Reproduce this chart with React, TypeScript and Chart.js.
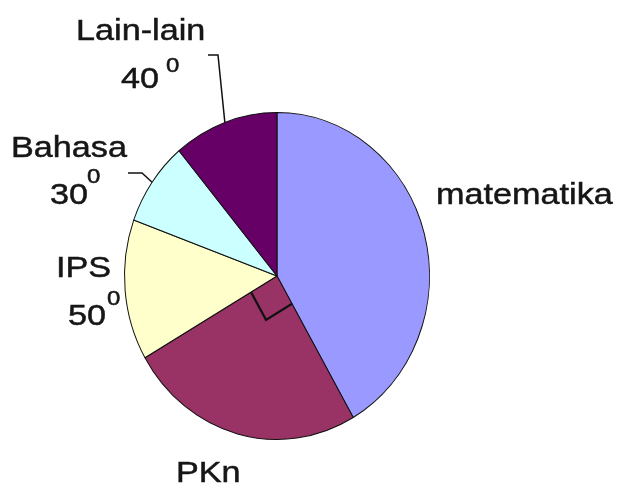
import { useEffect, useRef } from 'react';
import { Chart, ArcElement, PieController } from 'chart.js';

Chart.register(ArcElement, PieController);

// ---- data ----
const categories = ['matematika', 'PKn', 'IPS', 'Bahasa', 'Lain-lain'];
const degrees = [150, 90, 50, 30, 40];
const colors = ['#9999FF', '#993366', '#FFFFCC', '#CCFFFF', '#660066'];
const degreeTexts = ['', '', '50', '30', '40'];
const supText = '0';

// ---- layout (left x, baseline y) ----
const SY = 164 / 153; // vertical stretch of the pie (ellipse)
const SX_TEXT = 1.14; // horizontal stretch of text
const FONT = '"Liberation Sans", Arial, sans-serif';
const namePos: Record<string, [number, number]> = {
  matematika: [436, 204],
  PKn: [176, 482],
  IPS: [56, 277],
  Bahasa: [11, 157],
  'Lain-lain': [76, 40],
};
const degPos: Record<string, [number, number]> = {
  IPS: [68, 325],
  Bahasa: [50, 204],
  'Lain-lain': [121, 88],
};
const supPos: Record<string, [number, number]> = {
  IPS: [107, 305],
  Bahasa: [87, 183],
  'Lain-lain': [166, 72],
};
const leaderStart: Record<string, [number, number][]> = {
  Bahasa: [[128, 173], [142, 173]],
  'Lain-lain': [[208, 55], [218, 55]],
};

function drawText(ctx: CanvasRenderingContext2D, t: string, x: number, y: number, size: number) {
  ctx.save();
  ctx.translate(x, y);
  ctx.scale(SX_TEXT, 1);
  ctx.font = `${size}px ${FONT}`;
  ctx.fillStyle = '#161616';
  ctx.strokeStyle = '#161616';
  ctx.lineWidth = 0.5;
  ctx.textAlign = 'left';
  ctx.textBaseline = 'alphabetic';
  ctx.fillText(t, 0, 0);
  ctx.strokeText(t, 0, 0);
  ctx.restore();
}

const ellipsePlugin = {
  id: 'ellipsePie',
  beforeDatasetsDraw(chart: any) {
    const arc = chart.getDatasetMeta(0).data[0];
    if (!arc) return;
    const ctx = chart.ctx;
    ctx.save();
    ctx.translate(arc.x, arc.y);
    ctx.scale(1, SY);
    ctx.translate(-arc.x, -arc.y);
  },
  afterDatasetsDraw(chart: any) {
    const meta = chart.getDatasetMeta(0);
    const ctx = chart.ctx;
    // right-angle marker on the PKn slice (still in scaled space)
    const idx = categories.indexOf('PKn');
    const a = meta.data[idx];
    if (a) {
      const s = 30;
      const u1 = [Math.cos(a.startAngle), Math.sin(a.startAngle)];
      const u2 = [Math.cos(a.endAngle), Math.sin(a.endAngle)];
      ctx.beginPath();
      ctx.moveTo(a.x + s * u1[0], a.y + s * u1[1]);
      ctx.lineTo(a.x + s * (u1[0] + u2[0]), a.y + s * (u1[1] + u2[1]));
      ctx.lineTo(a.x + s * u2[0], a.y + s * u2[1]);
      ctx.lineWidth = 2.2;
      ctx.strokeStyle = '#111';
      ctx.stroke();
    }
    ctx.restore();
  },
  afterDraw(chart: any) {
    const meta = chart.getDatasetMeta(0);
    const ctx = chart.ctx;
    categories.forEach((name, i) => {
      const arc = meta.data[i];
      // leader lines
      const pts = leaderStart[name];
      if (pts && arc) {
        const mid = (arc.startAngle + arc.endAngle) / 2;
        const ex = arc.x + arc.outerRadius * Math.cos(mid);
        const ey = arc.y + SY * arc.outerRadius * Math.sin(mid);
        ctx.save();
        ctx.beginPath();
        ctx.moveTo(pts[0][0], pts[0][1]);
        for (let k = 1; k < pts.length; k++) ctx.lineTo(pts[k][0], pts[k][1]);
        ctx.lineTo(ex, ey);
        ctx.lineWidth = 1.5;
        ctx.strokeStyle = '#111';
        ctx.stroke();
        ctx.restore();
      }
      const np = namePos[name];
      if (np) drawText(ctx, name, np[0], np[1], 30);
      if (degreeTexts[i]) {
        const dp = degPos[name];
        const sp = supPos[name];
        if (dp) drawText(ctx, degreeTexts[i], dp[0], dp[1], 30);
        if (sp) drawText(ctx, supText, sp[0], sp[1], 21);
      }
    });
  },
};

export default function App() {
  const ref = useRef<HTMLCanvasElement | null>(null);
  useEffect(() => {
    document.body.style.margin = '0';
    const canvas = ref.current;
    if (!canvas) return;
    const chart = new Chart(canvas, {
      type: 'pie',
      data: {
        labels: categories,
        datasets: [
          {
            data: degrees,
            backgroundColor: colors,
            borderColor: '#111',
            borderWidth: 1,
            clip: false as any,
          },
        ],
      },
      options: {
        responsive: false,
        animation: false,
        events: [],
        rotation: 0,
        layout: { padding: { left: 124, right: 190, top: 123, bottom: 58 } },
        plugins: {
          legend: { display: false },
          tooltip: { enabled: false },
          title: { display: false },
        },
      },
      plugins: [ellipsePlugin],
    });
    return () => chart.destroy();
  }, []);
  return (
    <div style={{ width: 620, height: 487, background: '#fff' }}>
      <canvas ref={ref} width={620} height={487} style={{ display: 'block' }} />
    </div>
  );
}
